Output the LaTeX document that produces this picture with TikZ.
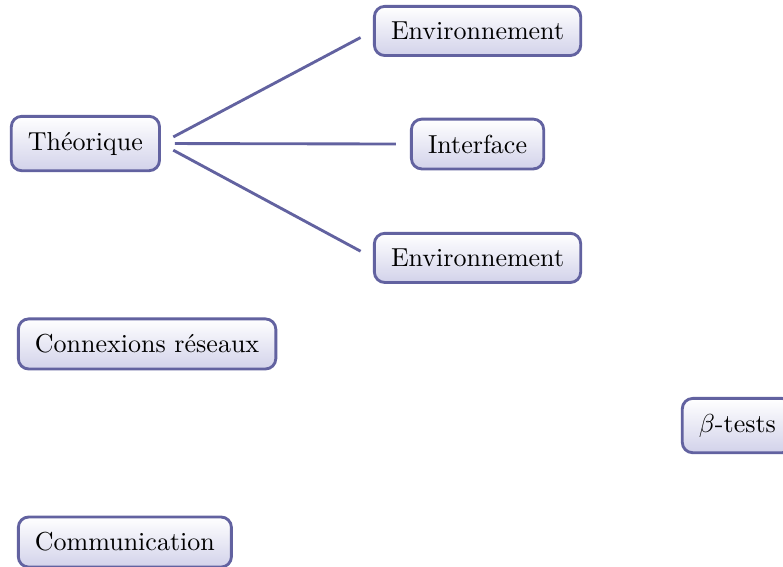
\documentclass[tikz,border=0pt]{standalone}
\usepackage{fontspec}
\usepackage{tikz}
\usetikzlibrary{calc}
\definecolor{boxline}{RGB}{98,98,160}
\definecolor{boxshade}{RGB}{210,210,234}
\tikzset{
  topic/.style={draw=boxline, line width=1.1pt, rounded corners=4pt, align=center,
    top color=white, bottom color=boxshade, inner xsep=6.4pt, inner ysep=6pt},
  link/.style={draw=boxline, line width=1.1pt, shorten <=5.4pt, shorten >=5.4pt}
}

\begin{document}
\begin{tikzpicture}[x=1pt, y=1pt]
  \useasboundingbox (0,0) rectangle (301.2,-218.1);
  \node[topic, anchor=west] (theo) at (3.8,-55.2) {Théorique};
  \node[topic] (env1) at (183.7,-11.9) {Environnement};
  \node[topic] (intf) at (183.7,-55.4) {Interface};
  \node[topic] (env2) at (183.7,-99.2) {Environnement};
  \node[topic, anchor=west] (conn) at (6.5,-132.3) {Connexions réseaux};
  \node[topic, anchor=west] (beta) at (261.9,-163.7) {$\beta$-tests};
  \node[topic, anchor=west] (comm) at (6.5,-208.5) {Communication};

  \draw[link] (theo.east) -- (env1.west);
  \draw[link] (theo.east) -- (intf.west);
  \draw[link] (theo.east) -- (env2.west);
\end{tikzpicture}
\end{document}
